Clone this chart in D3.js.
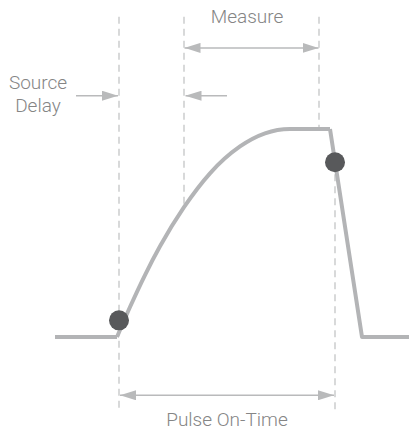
<!DOCTYPE html>
<html>
<head>
<meta charset="utf-8">
<script src="https://cdn.jsdelivr.net/npm/d3@7"></script>
<style>
  body { margin: 0; background: #fff; }
  svg { display: block; }
  text { font-family: Roboto, "Liberation Sans", sans-serif; font-weight: 300; font-size: 19px; fill: #858585; }
</style>
</head>
<body>
<svg></svg>
<script>
// waveform: time (arbitrary units) and level (0..1)
let waveTime  = [0, 62, 75, 90, 105, 129, 155, 185, 210, 235, 275]
let waveLevel = [0, 0, 0.144, 0.298, 0.436, 0.624, 0.787, 0.916, 0.979, 1, 1]
let fallTime  = [275, 307, 354]
let fallLevel = [1, 0, 0]

// measurement points on the pulse
let dotTime  = [64, 280]
let dotLevel = [0.08, 0.84]

// dashed markers
let markerTime = [64, 129, 264, 280]
let markerTop  = [1.54, 1.54, 1.54, 0.84]   // level where each dashed line starts
let markerBottom = [-0.36, 0.63, 1, -0.36] // level where it ends

// annotations
let labels = ['Measure', 'Source', 'Delay', 'Pulse On-Time']
let labelTime = [192, -17, -17, 172]
let labelLevel = [1.51, 1.19, 1.08, -0.43]

let width = 409
let height = 430
let svg = d3.select('svg').attr('width', width).attr('height', height)

let xScale = d3.scaleLinear().domain([0, 354]).range([55, 409])
let yScale = d3.scaleLinear().domain([0, 1]).range([337, 129])

let defs = svg.append('defs')
let head = (id, orient) => {
    defs.append('marker')
        .attr('id', id)
        .attr('viewBox', '0 0 16 10')
        .attr('refX', 16).attr('refY', 5)
        .attr('markerWidth', 16).attr('markerHeight', 10)
        .attr('markerUnits', 'userSpaceOnUse')
        .attr('orient', orient)
        .append('path')
        .attr('d', 'M0,0 L16,5 L0,10 Z')
        .attr('fill', '#b9babb')
}
head('arr', 'auto')
head('arrStart', 'auto-start-reverse')

// dashed lines
svg.selectAll('line.marker')
    .data(markerTime)
    .enter()
    .append('line')
    .attr('class', 'marker')
    .attr('x1', (d) => xScale(d))
    .attr('x2', (d) => xScale(d))
    .attr('y1', (d, i) => yScale(markerTop[i]))
    .attr('y2', (d, i) => yScale(markerBottom[i]))
    .attr('stroke', '#c4c5c6')
    .attr('stroke-width', 1.3)
    .attr('stroke-dasharray', '7,5')

// arrows: [fromTime, toTime, level, both ends]
let arrows = [
    [129.5, 263.5, 1.39, true],
    [21, 63, 1.16, false],
    [172, 130.5, 1.16, false],
    [65, 279, -0.28, true]
]
svg.selectAll('line.arrow')
    .data(arrows)
    .enter()
    .append('line')
    .attr('class', 'arrow')
    .attr('x1', (d) => xScale(d[0]))
    .attr('x2', (d) => xScale(d[1]))
    .attr('y1', (d) => yScale(d[2]))
    .attr('y2', (d) => yScale(d[2]))
    .attr('stroke', '#b9babb')
    .attr('stroke-width', 1.5)
    .attr('marker-end', 'url(#arr)')
    .attr('marker-start', (d) => d[3] ? 'url(#arrStart)' : null)

// pulse
let wave = waveTime.map((t, i) => [t, waveLevel[i]])
let fall = fallTime.map((t, i) => [t, fallLevel[i]])
let line = d3.line()
    .x((d) => xScale(d[0]))
    .y((d) => yScale(d[1]))
let pulse = svg.append('g')
    .attr('fill', 'none')
    .attr('stroke', '#b3b4b6')
    .attr('stroke-width', 4)
    .attr('stroke-linejoin', 'round')
pulse.append('path').attr('d', line(wave.slice(0, 2)))
pulse.append('path').attr('d', line.curve(d3.curveMonotoneX)(wave.slice(1)))
pulse.append('path').attr('d', line.curve(d3.curveLinear)(fall))

svg.selectAll('circle')
    .data(dotTime)
    .enter()
    .append('circle')
    .attr('cx', (d) => xScale(d))
    .attr('cy', (d, i) => yScale(dotLevel[i]))
    .attr('r', 10)
    .attr('fill', '#58595b')

svg.selectAll('text')
    .data(labels)
    .enter()
    .append('text')
    .attr('x', (d, i) => xScale(labelTime[i]))
    .attr('y', (d, i) => yScale(labelLevel[i]))
    .attr('text-anchor', 'middle')
    .text((d) => d)
</script>
</body>
</html>
